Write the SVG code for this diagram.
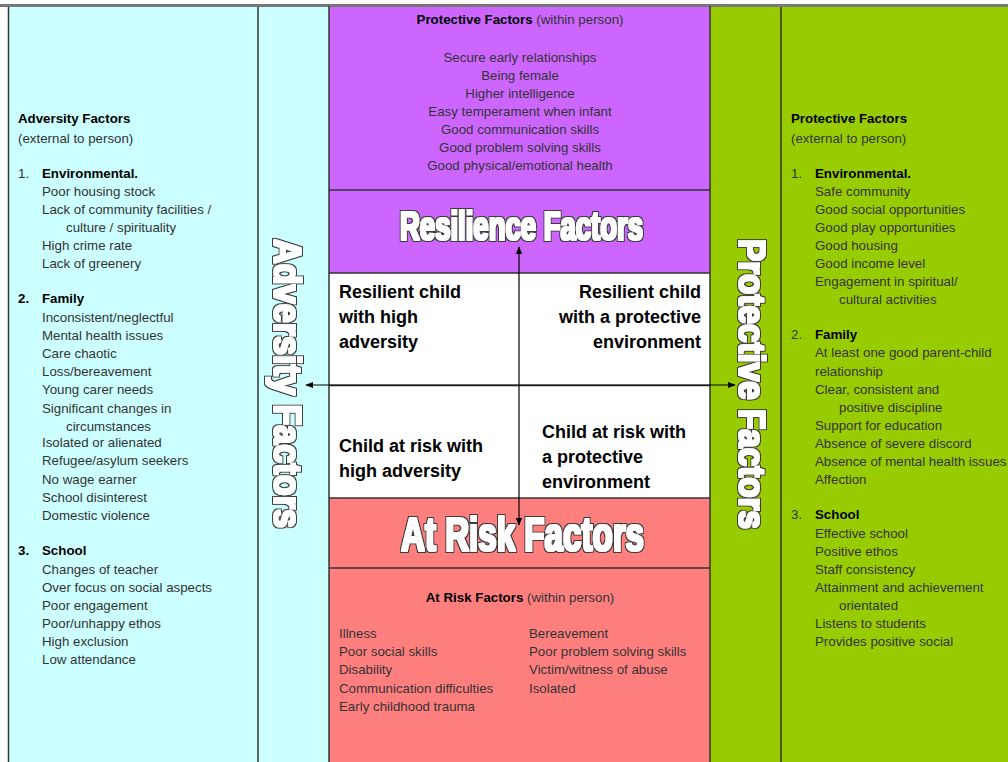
<svg xmlns="http://www.w3.org/2000/svg" width="1008" height="762" viewBox="0 0 1008 762">
  <defs>
    <marker id="tip" viewBox="0 0 10 10" refX="9" refY="5" markerWidth="8" markerHeight="8" markerUnits="userSpaceOnUse" orient="auto">
      <path d="M0,1 L10,5 L0,9 Z" fill="#000"/>
    </marker>
    <!-- heavy white lettering with a dark outline -->
    <filter id="outline" x="-5%" y="-20%" width="110%" height="140%">
      <feMorphology in="SourceAlpha" operator="dilate" radius="0.5" result="body"/>
      <feMorphology in="SourceAlpha" operator="dilate" radius="1.7" result="rim"/>
      <feFlood flood-color="#3a3a3a" result="dark"/>
      <feComposite in="dark" in2="rim" operator="in" result="rimDark"/>
      <feFlood flood-color="#ffffff" result="light"/>
      <feComposite in="light" in2="body" operator="in" result="bodyLight"/>
      <feMerge>
        <feMergeNode in="rimDark"/>
        <feMergeNode in="bodyLight"/>
      </feMerge>
    </filter>
    <style>
      .t { font-family: "Liberation Sans", Arial, sans-serif; font-size: 13.3px; fill: #333; }
      .b { font-weight: bold; fill: #000; }
      .c { text-anchor: middle; }
      .q { font-family: "Liberation Sans", Arial, sans-serif; font-size: 18px; font-weight: bold; fill: #000; }
      .big { font-family: "Liberation Sans", Arial, sans-serif; font-weight: bold; fill: #fff; filter: url(#outline); }
      .rule { stroke: #333; stroke-width: 1.5; fill: none; }
      .arrow { stroke: #000; stroke-width: 1.2; fill: none; marker-end: url(#tip); }
    </style>
  </defs>

  <rect x="0" y="0" width="1008" height="762" fill="#fff"/>

  <!-- left panel: adversity factors -->
  <g id="adversity-panel">
    <rect x="8" y="6" width="321" height="760" fill="#ccffff"/>
    <line class="rule" x1="8.5" y1="6" x2="8.5" y2="762"/>
    <line class="rule" x1="258" y1="6" x2="258" y2="762"/>
    <text class="t b" x="18" y="123">Adversity Factors</text>
    <text class="t" x="18" y="143">(external to person)</text>
    <text class="t" x="18" y="178">1.</text>
    <text class="t b" x="42" y="178">Environmental.</text>
    <text class="t" x="42" y="196">Poor housing stock</text>
    <text class="t" x="42" y="214">Lack of community facilities /</text>
    <text class="t" x="66" y="232">culture / spirituality</text>
    <text class="t" x="42" y="250">High crime rate</text>
    <text class="t" x="42" y="268">Lack of greenery</text>
    <text class="t b" x="18" y="303">2.</text>
    <text class="t b" x="42" y="303">Family</text>
    <text class="t" x="42" y="322">Inconsistent/neglectful</text>
    <text class="t" x="42" y="340">Mental health issues</text>
    <text class="t" x="42" y="358">Care chaotic</text>
    <text class="t" x="42" y="376">Loss/bereavement</text>
    <text class="t" x="42" y="394">Young carer needs</text>
    <text class="t" x="42" y="413">Significant changes in</text>
    <text class="t" x="66" y="431">circumstances</text>
    <text class="t" x="42" y="447">Isolated or alienated</text>
    <text class="t" x="42" y="465">Refugee/asylum seekers</text>
    <text class="t" x="42" y="484">No wage earner</text>
    <text class="t" x="42" y="502">School disinterest</text>
    <text class="t" x="42" y="520">Domestic violence</text>
    <text class="t b" x="18" y="555">3.</text>
    <text class="t b" x="42" y="555">School</text>
    <text class="t" x="42" y="574">Changes of teacher</text>
    <text class="t" x="42" y="592">Over focus on social aspects</text>
    <text class="t" x="42" y="610">Poor engagement</text>
    <text class="t" x="42" y="628">Poor/unhappy ethos</text>
    <text class="t" x="42" y="646">High exclusion</text>
    <text class="t" x="42" y="664">Low attendance</text>
    <text class="big" transform="translate(274,239) rotate(90)" font-size="39" textLength="289" lengthAdjust="spacingAndGlyphs">Adversity Factors</text>
  </g>

  <!-- right panel: protective factors -->
  <g id="protective-panel">
    <rect x="710" y="6" width="298" height="760" fill="#99cc00"/>
    <line class="rule" x1="781" y1="6" x2="781" y2="762"/>
    <text class="t b" x="791" y="123">Protective Factors</text>
    <text class="t" x="791" y="143">(external to person)</text>
    <text class="t" x="791" y="178">1.</text>
    <text class="t b" x="815" y="178">Environmental.</text>
    <text class="t" x="815" y="196">Safe community</text>
    <text class="t" x="815" y="214">Good social opportunities</text>
    <text class="t" x="815" y="232">Good play opportunities</text>
    <text class="t" x="815" y="250">Good housing</text>
    <text class="t" x="815" y="268">Good income level</text>
    <text class="t" x="815" y="286">Engagement in spiritual/</text>
    <text class="t" x="839" y="304">cultural activities</text>
    <text class="t" x="791" y="339">2.</text>
    <text class="t b" x="815" y="339">Family</text>
    <text class="t" x="815" y="357">At least one good parent-child</text>
    <text class="t" x="815" y="376">relationship</text>
    <text class="t" x="815" y="394">Clear, consistent and</text>
    <text class="t" x="839" y="412">positive discipline</text>
    <text class="t" x="815" y="430">Support for education</text>
    <text class="t" x="815" y="448">Absence of severe discord</text>
    <text class="t" x="815" y="466">Absence of mental health issues</text>
    <text class="t" x="815" y="484">Affection</text>
    <text class="t" x="791" y="519">3.</text>
    <text class="t b" x="815" y="519">School</text>
    <text class="t" x="815" y="538">Effective school</text>
    <text class="t" x="815" y="556">Positive ethos</text>
    <text class="t" x="815" y="574">Staff consistency</text>
    <text class="t" x="815" y="592">Attainment and achievement</text>
    <text class="t" x="839" y="610">orientated</text>
    <text class="t" x="815" y="628">Listens to students</text>
    <text class="t" x="815" y="646">Provides positive social</text>
    <text class="big" transform="translate(739,239) rotate(90)" font-size="37" textLength="290" lengthAdjust="spacingAndGlyphs">Protective Factors</text>
  </g>

  <!-- top panel: protective factors within person -->
  <g id="within-protective">
    <rect x="329" y="6" width="381" height="184" fill="#cc66ff"/>
    <text class="t c" x="520" y="24"><tspan class="b">Protective Factors</tspan> (within person)</text>
    <text class="t c" x="520" y="62">Secure early relationships</text>
    <text class="t c" x="520" y="80">Being female</text>
    <text class="t c" x="520" y="98">Higher intelligence</text>
    <text class="t c" x="520" y="116">Easy temperament when infant</text>
    <text class="t c" x="520" y="134">Good communication skills</text>
    <text class="t c" x="520" y="152">Good problem solving skills</text>
    <text class="t c" x="520" y="170">Good physical/emotional health</text>
  </g>

  <!-- resilience heading band -->
  <g id="resilience">
    <rect x="329" y="190" width="381" height="83" fill="#cc66ff"/>
    <text class="big" x="400" y="240" font-size="41" textLength="243" lengthAdjust="spacingAndGlyphs">Resilience Factors</text>
  </g>

  <!-- quadrants -->
  <g id="quadrants">
    <rect x="329" y="273" width="381" height="225" fill="#fff"/>
    <text class="q" x="339" y="298">Resilient child</text>
    <text class="q" x="339" y="323">with high</text>
    <text class="q" x="339" y="348">adversity</text>
    <text class="q" x="701" y="298" text-anchor="end">Resilient child</text>
    <text class="q" x="701" y="323" text-anchor="end">with a protective</text>
    <text class="q" x="701" y="348" text-anchor="end">environment</text>
    <text class="q" x="339" y="452">Child at risk with</text>
    <text class="q" x="339" y="477">high adversity</text>
    <text class="q" x="542" y="438">Child at risk with</text>
    <text class="q" x="542" y="463">a protective</text>
    <text class="q" x="542" y="488">environment</text>
  </g>

  <!-- at-risk heading band -->
  <g id="at-risk">
    <rect x="329" y="498" width="381" height="70" fill="#ff7f7f"/>
    <text class="big" x="401" y="551" font-size="49" textLength="243" lengthAdjust="spacingAndGlyphs">At Risk Factors</text>
  </g>

  <!-- bottom panel: at-risk factors within person -->
  <g id="within-risk">
    <rect x="329" y="568" width="381" height="194" fill="#ff7f7f"/>
    <text class="t c" x="520" y="602"><tspan class="b">At Risk Factors</tspan> (within person)</text>
    <text class="t" x="339" y="638">Illness</text>
    <text class="t" x="339" y="656">Poor social skills</text>
    <text class="t" x="339" y="674">Disability</text>
    <text class="t" x="339" y="693">Communication difficulties</text>
    <text class="t" x="339" y="711">Early childhood trauma</text>
    <text class="t" x="529" y="638">Bereavement</text>
    <text class="t" x="529" y="656">Poor problem solving skills</text>
    <text class="t" x="529" y="674">Victim/witness of abuse</text>
    <text class="t" x="529" y="693">Isolated</text>
  </g>

  <!-- panel borders and axes -->
  <g id="connectors">
    <line x1="0" y1="5.5" x2="1008" y2="5.5" stroke="#777" stroke-width="3"/>
    <line class="rule" x1="329" y1="6" x2="329" y2="762"/>
    <line class="rule" x1="710" y1="6" x2="710" y2="762"/>
    <line class="rule" x1="329" y1="190" x2="710" y2="190"/>
    <line class="rule" x1="329" y1="273" x2="710" y2="273"/>
    <line class="rule" x1="329" y1="498" x2="710" y2="498"/>
    <line class="rule" x1="329" y1="568" x2="710" y2="568"/>
    <line x1="329" y1="385.5" x2="710" y2="385.5" stroke="#333" stroke-width="1.5"/>
    <line class="arrow" x1="519" y1="385" x2="519" y2="247"/>
    <line class="arrow" x1="519" y1="385" x2="519" y2="525"/>
    <line class="arrow" x1="519" y1="385" x2="306" y2="385"/>
    <line class="arrow" x1="519" y1="385" x2="735" y2="385"/>
  </g>
</svg>
